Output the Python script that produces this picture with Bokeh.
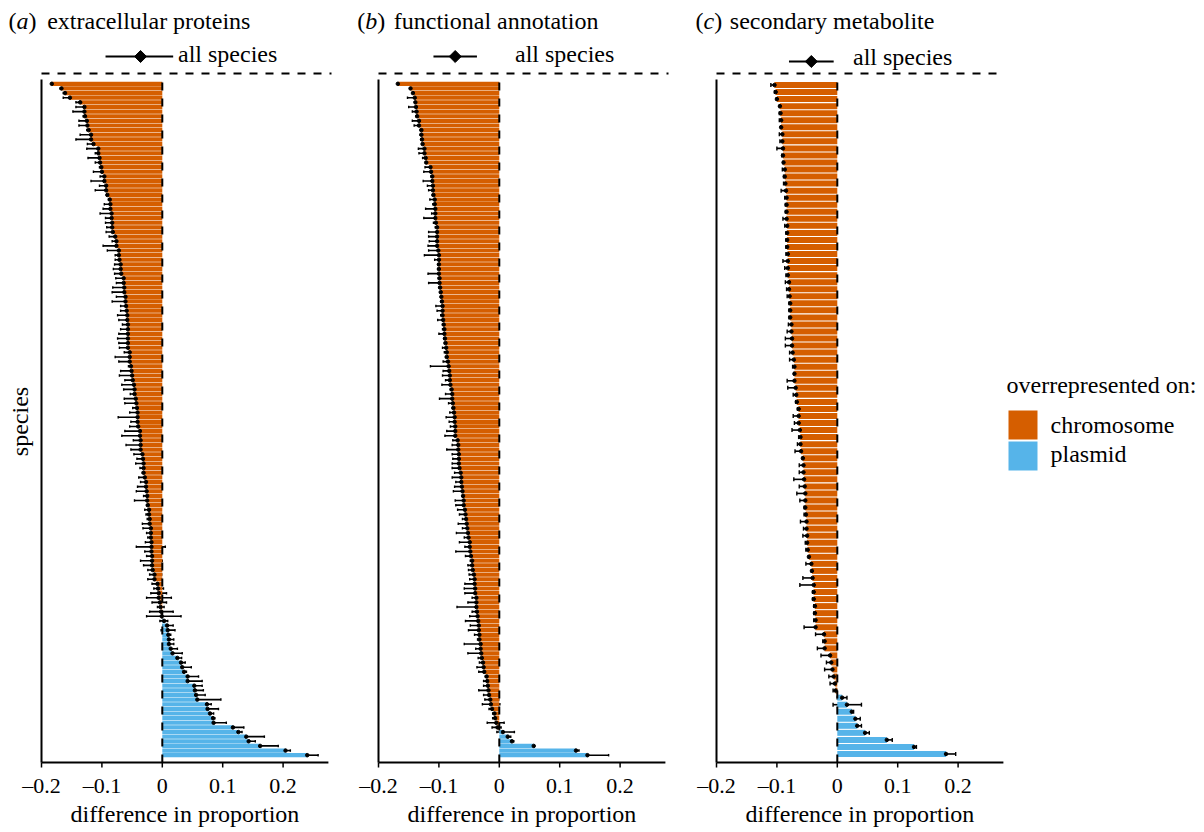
import math
from bokeh.plotting import figure
from bokeh.models import Range1d, ColumnDataSource, Whisker, TeeHead
from bokeh.layouts import row
from bokeh.embed import file_html
from bokeh.resources import INLINE
from bokeh.core.properties import value

# ------------------------------------------------------------------ data
LETTERS = ["a", "b", "c"]
TITLES = ["extracellular proteins", "functional annotation", "secondary metabolite"]
X_TICKS = [-0.2, -0.1, 0, 0.1, 0.2]
X_TICK_LABELS = ["\u20130.2", "\u20130.1", "0", "0.1", "0.2"]
X_LABEL = "difference in proportion"
Y_LABEL = "species"
ALL_LABEL = "all species"
LEGEND_TITLE = "overrepresented on:"
LEGEND_LABELS = ["chromosome", "plasmid"]

# (a) extracellular proteins: per-species difference, lower and upper bound
a_mean = [-0.183,-0.167,-0.161,-0.153,-0.136,-0.129,-0.129,-0.128,-0.125,-0.124,
          -0.122,-0.118,-0.118,-0.114,-0.106,-0.106,-0.104,-0.103,-0.101,-0.100,
          -0.096,-0.096,-0.093,-0.093,-0.091,-0.087,-0.086,-0.086,-0.084,-0.084,
          -0.083,-0.083,-0.082,-0.078,-0.076,-0.076,-0.072,-0.072,-0.071,-0.069,
          -0.069,-0.068,-0.064,-0.064,-0.063,-0.063,-0.061,-0.061,-0.060,-0.059,
          -0.058,-0.058,-0.057,-0.057,-0.057,-0.057,-0.057,-0.057,-0.054,-0.054,
          -0.054,-0.052,-0.051,-0.050,-0.049,-0.047,-0.046,-0.046,-0.044,-0.043,
          -0.042,-0.041,-0.041,-0.041,-0.040,-0.037,-0.037,-0.036,-0.036,-0.036,
          -0.033,-0.032,-0.031,-0.031,-0.031,-0.029,-0.027,-0.027,-0.026,-0.025,
          -0.025,-0.024,-0.022,-0.022,-0.021,-0.021,-0.019,-0.019,-0.019,-0.018,
          -0.018,-0.018,-0.017,-0.017,-0.017,-0.016,-0.013,-0.013,-0.008,-0.007,
          -0.006,-0.006,-0.004,-0.003,-0.002,-0.001,0.003,0.008,0.009,0.010,
          0.011,0.011,0.014,0.017,0.025,0.031,0.033,0.036,0.042,0.042,
          0.053,0.054,0.056,0.058,0.074,0.075,0.079,0.084,0.085,0.117,
          0.126,0.139,0.143,0.162,0.204,0.240]
a_lo = [-0.183,-0.169,-0.164,-0.164,-0.143,-0.143,-0.148,-0.131,-0.138,-0.138,
        -0.125,-0.136,-0.143,-0.124,-0.125,-0.111,-0.123,-0.111,-0.104,-0.114,
        -0.103,-0.118,-0.104,-0.111,-0.092,-0.089,-0.096,-0.098,-0.103,-0.094,
        -0.094,-0.092,-0.093,-0.088,-0.083,-0.098,-0.091,-0.078,-0.078,-0.079,
        -0.081,-0.079,-0.077,-0.076,-0.082,-0.083,-0.076,-0.083,-0.069,-0.069,
        -0.074,-0.072,-0.066,-0.069,-0.072,-0.074,-0.072,-0.071,-0.063,-0.078,
        -0.072,-0.056,-0.069,-0.071,-0.062,-0.067,-0.064,-0.053,-0.063,-0.062,
        -0.049,-0.054,-0.073,-0.052,-0.054,-0.062,-0.067,-0.048,-0.060,-0.052,
        -0.047,-0.042,-0.044,-0.037,-0.033,-0.039,-0.036,-0.041,-0.043,-0.031,
        -0.046,-0.026,-0.029,-0.027,-0.025,-0.033,-0.032,-0.026,-0.024,-0.028,
        -0.043,-0.029,-0.026,-0.036,-0.031,-0.024,-0.021,-0.024,-0.017,-0.014,
        -0.019,-0.026,-0.017,-0.008,-0.021,-0.026,-0.004,0.001,-0.002,0.007,
        0.003,0.004,0.006,0.003,0.016,0.023,0.021,0.032,0.021,0.019,
        0.041,0.039,0.039,0.019,0.066,0.061,0.072,0.082,0.066,0.097,
        0.121,0.111,0.132,0.132,0.196,0.222]
a_hi = [-0.181,-0.166,-0.159,-0.140,-0.128,-0.117,-0.110,-0.126,-0.115,-0.109,
        -0.121,-0.100,-0.092,-0.106,-0.096,-0.101,-0.087,-0.096,-0.098,-0.084,
        -0.087,-0.072,-0.083,-0.072,-0.088,-0.086,-0.074,-0.073,-0.065,-0.074,
        -0.073,-0.074,-0.069,-0.065,-0.070,-0.054,-0.053,-0.065,-0.062,-0.060,
        -0.058,-0.057,-0.050,-0.052,-0.044,-0.041,-0.047,-0.038,-0.051,-0.049,
        -0.042,-0.043,-0.049,-0.047,-0.043,-0.038,-0.040,-0.040,-0.046,-0.031,
        -0.036,-0.044,-0.032,-0.028,-0.037,-0.027,-0.026,-0.038,-0.025,-0.024,
        -0.033,-0.027,-0.008,-0.028,-0.025,-0.012,-0.007,-0.023,-0.010,-0.018,
        -0.020,-0.022,-0.018,-0.025,-0.028,-0.022,-0.019,-0.013,-0.008,-0.020,
        -0.005,-0.022,-0.017,-0.017,-0.018,-0.010,-0.011,-0.015,-0.017,-0.010,
        0.005,-0.005,-0.008,0.000,-0.004,-0.002,-0.001,-0.002,-0.002,0.002,
        0.007,0.015,0.007,0.003,0.018,0.031,0.009,0.018,0.021,0.014,
        0.019,0.019,0.025,0.033,0.032,0.038,0.048,0.040,0.060,0.066,
        0.066,0.068,0.071,0.097,0.081,0.093,0.085,0.087,0.106,0.135,
        0.132,0.169,0.154,0.192,0.212,0.258]

# (b) functional annotation
b_mean = [-0.168,-0.147,-0.143,-0.140,-0.139,-0.138,-0.137,-0.136,-0.133,-0.133,
          -0.129,-0.129,-0.128,-0.127,-0.124,-0.124,-0.122,-0.121,-0.114,-0.113,
          -0.111,-0.111,-0.110,-0.110,-0.109,-0.107,-0.107,-0.106,-0.106,-0.106,
          -0.105,-0.103,-0.103,-0.103,-0.103,-0.103,-0.101,-0.100,-0.100,-0.100,
          -0.100,-0.100,-0.099,-0.099,-0.098,-0.097,-0.096,-0.095,-0.094,-0.094,
          -0.094,-0.093,-0.092,-0.091,-0.091,-0.090,-0.089,-0.088,-0.087,-0.087,
          -0.085,-0.084,-0.083,-0.082,-0.082,-0.081,-0.079,-0.078,-0.078,-0.077,
          -0.076,-0.075,-0.074,-0.074,-0.073,-0.073,-0.073,-0.069,-0.068,-0.068,
          -0.067,-0.067,-0.067,-0.066,-0.064,-0.063,-0.063,-0.062,-0.061,-0.060,
          -0.059,-0.059,-0.057,-0.056,-0.055,-0.054,-0.053,-0.052,-0.051,-0.049,
          -0.049,-0.048,-0.047,-0.045,-0.045,-0.044,-0.042,-0.041,-0.041,-0.040,
          -0.040,-0.038,-0.038,-0.038,-0.037,-0.036,-0.035,-0.034,-0.034,-0.033,
          -0.033,-0.031,-0.031,-0.030,-0.029,-0.027,-0.026,-0.025,-0.021,-0.020,
          -0.019,-0.018,-0.017,-0.015,-0.014,-0.012,-0.008,-0.007,-0.005,-0.003,
          0.006,0.014,0.021,0.057,0.127,0.146]
b_lo = [-0.168,-0.148,-0.144,-0.152,-0.140,-0.150,-0.144,-0.138,-0.144,-0.141,
        -0.131,-0.131,-0.130,-0.128,-0.134,-0.133,-0.127,-0.122,-0.123,-0.125,
        -0.113,-0.126,-0.119,-0.117,-0.111,-0.115,-0.110,-0.122,-0.112,-0.125,
        -0.109,-0.106,-0.117,-0.117,-0.116,-0.118,-0.117,-0.124,-0.107,-0.102,
        -0.102,-0.118,-0.101,-0.117,-0.100,-0.098,-0.097,-0.097,-0.105,-0.103,
        -0.097,-0.102,-0.094,-0.094,-0.100,-0.092,-0.091,-0.094,-0.091,-0.089,
        -0.093,-0.114,-0.093,-0.094,-0.089,-0.095,-0.081,-0.089,-0.099,-0.084,
        -0.078,-0.082,-0.088,-0.083,-0.081,-0.087,-0.090,-0.077,-0.078,-0.087,
        -0.078,-0.077,-0.078,-0.078,-0.074,-0.078,-0.072,-0.074,-0.076,-0.061,
        -0.073,-0.072,-0.069,-0.066,-0.061,-0.068,-0.061,-0.071,-0.058,-0.066,
        -0.057,-0.072,-0.056,-0.048,-0.052,-0.051,-0.050,-0.049,-0.057,-0.058,
        -0.057,-0.045,-0.052,-0.070,-0.045,-0.049,-0.056,-0.048,-0.051,-0.041,
        -0.036,-0.058,-0.039,-0.052,-0.035,-0.033,-0.037,-0.034,-0.023,-0.026,
        -0.026,-0.034,-0.026,-0.024,-0.028,-0.017,-0.011,-0.011,-0.020,-0.012,
        -0.004,0.007,0.018,0.054,0.121,0.111]
b_hi = [-0.165,-0.145,-0.142,-0.129,-0.138,-0.127,-0.131,-0.136,-0.124,-0.126,
        -0.128,-0.128,-0.127,-0.125,-0.114,-0.115,-0.119,-0.120,-0.105,-0.100,
        -0.111,-0.098,-0.100,-0.103,-0.108,-0.101,-0.107,-0.093,-0.103,-0.089,
        -0.102,-0.103,-0.091,-0.092,-0.090,-0.088,-0.086,-0.078,-0.095,-0.099,
        -0.099,-0.083,-0.098,-0.083,-0.096,-0.095,-0.094,-0.093,-0.082,-0.084,
        -0.090,-0.082,-0.089,-0.089,-0.083,-0.087,-0.087,-0.080,-0.082,-0.083,
        -0.078,-0.055,-0.074,-0.072,-0.078,-0.065,-0.077,-0.067,-0.055,-0.068,
        -0.074,-0.068,-0.062,-0.067,-0.068,-0.060,-0.056,-0.062,-0.059,-0.049,
        -0.057,-0.056,-0.055,-0.052,-0.054,-0.049,-0.054,-0.047,-0.045,-0.058,
        -0.045,-0.047,-0.045,-0.048,-0.051,-0.042,-0.048,-0.037,-0.039,-0.032,
        -0.039,-0.024,-0.039,-0.042,-0.037,-0.034,-0.035,-0.036,-0.027,-0.026,
        -0.027,-0.031,-0.024,-0.005,-0.029,-0.024,-0.017,-0.021,-0.017,-0.024,
        -0.031,-0.007,-0.026,-0.014,-0.023,-0.019,-0.016,-0.010,-0.017,-0.014,
        -0.014,-0.005,-0.009,-0.001,0.001,-0.008,-0.004,-0.003,0.008,0.003,
        0.025,0.019,0.024,0.058,0.132,0.181]

# (c) secondary metabolite
c_mean = [-0.104,-0.102,-0.100,-0.095,-0.094,-0.093,-0.093,-0.091,-0.091,-0.090,
          -0.090,-0.089,-0.087,-0.087,-0.086,-0.085,-0.084,-0.084,-0.084,-0.084,
          -0.083,-0.083,-0.083,-0.083,-0.082,-0.082,-0.082,-0.082,-0.080,-0.080,
          -0.079,-0.078,-0.078,-0.078,-0.076,-0.076,-0.075,-0.075,-0.074,-0.072,
          -0.071,-0.071,-0.071,-0.069,-0.068,-0.067,-0.064,-0.064,-0.064,-0.062,
          -0.061,-0.061,-0.060,-0.057,-0.056,-0.056,-0.055,-0.054,-0.053,-0.053,
          -0.053,-0.052,-0.051,-0.051,-0.050,-0.050,-0.049,-0.047,-0.043,-0.042,
          -0.041,-0.039,-0.039,-0.039,-0.037,-0.037,-0.036,-0.036,-0.022,-0.021,
          -0.021,-0.012,-0.010,-0.008,-0.006,-0.004,-0.003,0.008,0.016,0.024,
          0.030,0.033,0.046,0.082,0.127,0.180]
c_lo = [-0.110,-0.104,-0.101,-0.096,-0.096,-0.096,-0.094,-0.096,-0.095,-0.100,
        -0.092,-0.090,-0.091,-0.089,-0.089,-0.093,-0.087,-0.086,-0.086,-0.090,
        -0.087,-0.085,-0.085,-0.085,-0.085,-0.090,-0.087,-0.085,-0.086,-0.084,
        -0.083,-0.080,-0.080,-0.080,-0.081,-0.083,-0.086,-0.086,-0.079,-0.079,
        -0.074,-0.072,-0.083,-0.082,-0.073,-0.069,-0.066,-0.073,-0.071,-0.075,
        -0.064,-0.066,-0.070,-0.058,-0.063,-0.063,-0.072,-0.063,-0.067,-0.062,
        -0.055,-0.055,-0.061,-0.056,-0.057,-0.053,-0.052,-0.048,-0.052,-0.043,
        -0.057,-0.062,-0.041,-0.041,-0.039,-0.039,-0.039,-0.055,-0.036,-0.024,
        -0.033,-0.027,-0.018,-0.021,-0.014,-0.012,-0.007,0.000,-0.007,0.021,
        0.023,0.029,0.042,0.073,0.120,0.164]
c_hi = [-0.097,-0.101,-0.098,-0.094,-0.093,-0.091,-0.092,-0.088,-0.087,-0.079,
        -0.087,-0.087,-0.084,-0.085,-0.083,-0.077,-0.082,-0.083,-0.083,-0.078,
        -0.080,-0.082,-0.082,-0.082,-0.079,-0.075,-0.077,-0.079,-0.075,-0.075,
        -0.077,-0.077,-0.075,-0.075,-0.072,-0.071,-0.067,-0.063,-0.069,-0.065,
        -0.069,-0.069,-0.057,-0.057,-0.060,-0.062,-0.063,-0.056,-0.058,-0.050,
        -0.058,-0.056,-0.048,-0.056,-0.049,-0.049,-0.040,-0.049,-0.045,-0.049,
        -0.053,-0.052,-0.045,-0.049,-0.046,-0.047,-0.040,-0.040,-0.032,-0.038,
        -0.023,-0.017,-0.038,-0.038,-0.035,-0.035,-0.034,-0.017,-0.021,-0.021,
        -0.012,-0.011,-0.007,-0.003,-0.003,-0.002,-0.001,0.016,0.040,0.027,
        0.038,0.040,0.053,0.091,0.131,0.196]

# "all species" summary per panel
all_mean = [-0.036, -0.073, -0.043]
all_lo = [-0.094, -0.109, -0.080]
all_hi = [0.018, -0.037, -0.006]

# ------------------------------------------------------------------ style / layout
FONT = "'Liberation Serif', 'Times New Roman', Times, serif"
ORANGE = "#D55E00"
BLUE = "#56B4E9"
PXU = 604.0            # screen px per data unit on x
FIG_H = 832
TOP = 0                # page y of figure top
AXIS_Y = 762           # page y of x-axis line
BAR_TOP, BAR_BOT = 81, 757
X_END = 0.275
FS = 24
TS = 22
SHIFT = 0.36           # renderer places alphabetic baseline ~0.36 em lower


def txt(size=FS, align="left", baseline="alphabetic"):
    return dict(text_font=value(FONT), text_font_size=f"{size}px", text_color="black",
                text_baseline=baseline, text_align=align)


def base(py, size=FS):
    return py - SHIFT * size


def make_panel(k, mean, lo, hi, fig_left, fig_w, m02, title_off, letter_w, main_off,
               all_y, all_base, bar_h, cap, show_ylabel):
    N = len(mean)
    pitch = (BAR_BOT - BAR_TOP) / N

    def X(px):
        return X_TICKS[0] + (px - m02) / PXU

    def Y(py):
        return N + 0.5 + (BAR_TOP - py) / pitch

    p = figure(width=fig_w, height=FIG_H,
               x_range=Range1d(X(fig_left), X(fig_left + fig_w)),
               y_range=Range1d(Y(TOP + FIG_H), Y(TOP)),
               output_backend="svg", toolbar_location=None,
               min_border_left=0, min_border_right=0, min_border_top=0,
               min_border_bottom=0, x_axis_location=None, y_axis_location=None)
    p.outline_line_color = None
    p.grid.visible = False

    ys = [N - i for i in range(N)]
    colors = [BLUE if v > 0 else ORANGE for v in mean]
    src = ColumnDataSource(dict(y=ys, mean=mean, lo=lo, hi=hi, color=colors))

    p.hbar(y="y", left=0, right="mean", height=bar_h, fill_color="color",
           line_color=None, source=src)
    # dashed reference line at zero
    p.segment(x0=[0], y0=[Y(AXIS_Y)], x1=[0], y1=[Y(BAR_TOP)], line_color="black",
              line_width=2, line_dash="8 8")
    w = Whisker(base="y", lower="lo", upper="hi", dimension="width", source=src,
                line_color="black", line_width=1.6,
                lower_head=TeeHead(size=cap, line_color="black", line_width=1.4),
                upper_head=TeeHead(size=cap, line_color="black", line_width=1.4))
    p.add_layout(w)
    p.scatter(x="mean", y="y", size=3.5, color="black", source=src)

    # axes drawn on the data scales
    yax = Y(AXIS_Y)
    p.segment(x0=[X_TICKS[0]], y0=[yax], x1=[X_TICKS[0]], y1=[Y(79)],
              line_color="black", line_width=2)
    p.segment(x0=[X_TICKS[0]], y0=[yax], x1=[X_END], y1=[yax],
              line_color="black", line_width=2)
    p.segment(x0=X_TICKS, y0=[yax] * len(X_TICKS), x1=X_TICKS,
              y1=[Y(AXIS_Y + 5)] * len(X_TICKS), line_color="black", line_width=1.5)
    p.text(x=X_TICKS, y=[Y(base(794, TS) - 1)] * len(X_TICKS), text=X_TICK_LABELS,
           **txt(TS, "center"))
    p.text(x=[(X_TICKS[0] + X_END) / 2], y=[Y(base(822.5))], text=[X_LABEL],
           **txt(FS, "center"))

    # separator between "all species" row and species rows
    p.segment(x0=[X_TICKS[0]], y0=[Y(73)], x1=[X(m02 + 290)], y1=[Y(73)],
              line_color="black", line_width=2, line_dash="8 8")

    # all species summary
    yA = Y(all_y)
    p.segment(x0=[all_lo[k]], y0=[yA], x1=[all_hi[k]], y1=[yA], line_color="black",
              line_width=2)
    p.scatter(x=[all_mean[k]], y=[yA], marker="square", angle=math.pi / 4, size=8.5,
              color="black")
    p.text(x=[X(m02 + 136.5)], y=[Y(base(all_base))], text=[ALL_LABEL], **txt())

    # panel title "(x) title"
    x0 = m02 + title_off
    yt = Y(base(29.5))
    p.text(x=[X(x0)], y=[yt], text=["("], **txt())
    p.text(x=[X(x0 + 8)], y=[yt], text=[LETTERS[k]], text_font_style="italic", **txt())
    p.text(x=[X(x0 + 8 + letter_w)], y=[yt], text=[")"], **txt())
    p.text(x=[X(x0 + main_off)], y=[yt], text=[TITLES[k]], **txt())

    if show_ylabel:
        p.text(x=[X(19)], y=[Y(421)], text=[Y_LABEL], angle=math.pi / 2,
               **txt(FS, "center", "middle"))
    return p


pa = make_panel(0, a_mean, a_lo, a_hi, 0, 345, 41, -33, 12, 38.7, 56, 62.3, 0.9, 2.5, True)
pb = make_panel(1, b_mean, b_lo, b_hi, 345, 338, 378, -21.3, 12, 36.6, 56, 62.3, 0.9, 2.5, False)
pc = make_panel(2, c_mean, c_lo, c_hi, 683, 321, 716, -21, 10.7, 34.3, 61, 65, 0.85, 4, False)

# legend panel
LG_LEFT = 1004
LG_W = 200
lg = figure(width=LG_W, height=FIG_H, x_range=Range1d(0, LG_W), y_range=Range1d(FIG_H, 0),
            output_backend="svg", toolbar_location=None,
            min_border_left=0, min_border_right=0, min_border_top=0, min_border_bottom=0,
            x_axis_location=None, y_axis_location=None)
lg.outline_line_color = None
lg.grid.visible = False
lg.text(x=[1006 - LG_LEFT], y=[base(393) - TOP], text=[LEGEND_TITLE], **txt())
lg.rect(x=[1022.5 - LG_LEFT, 1022.5 - LG_LEFT], y=[424.5 - TOP, 455.5 - TOP],
        width=29, height=29, fill_color=[ORANGE, BLUE], line_color=None)
lg.text(x=[1050 - LG_LEFT, 1050 - LG_LEFT], y=[base(433.3) - TOP, base(461.7) - TOP],
        text=LEGEND_LABELS, **txt())

layout = row(pa, pb, pc, lg)
open("out.html", "w").write(file_html(layout, INLINE))
